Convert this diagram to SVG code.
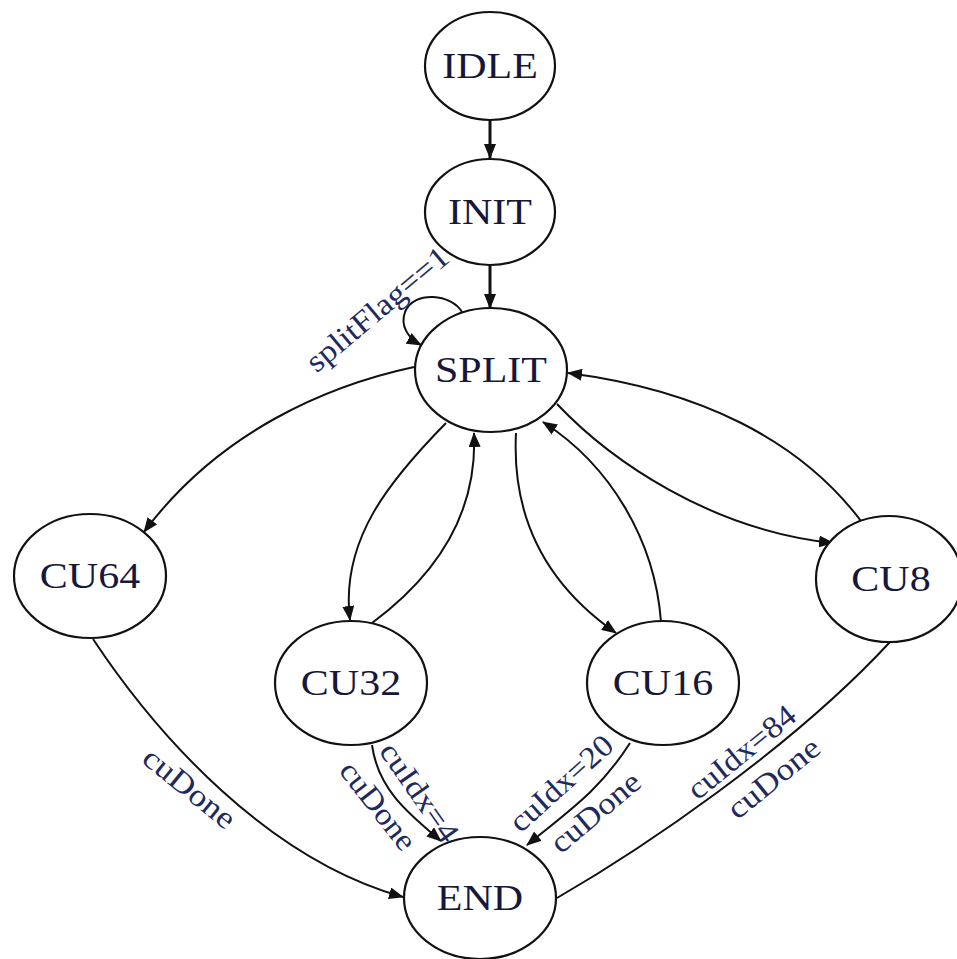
<svg xmlns="http://www.w3.org/2000/svg" width="957" height="959" viewBox="0 0 957 959">
<style>
.node ellipse{fill:#fff;stroke:#111;stroke-width:2.2}
.nl{font-family:"Liberation Serif","Times New Roman",serif;font-size:35px;fill:#17173a;text-anchor:middle}
.el{font-family:"Liberation Serif","Times New Roman",serif;font-size:31px;fill:#1e2a5e;text-anchor:middle}
.edges path{fill:none;stroke:#111;stroke-width:2}
.edges path.a{marker-end:url(#ah)}
.edges path.thick{stroke-width:3}
</style>
<defs>
<marker id="ah" markerWidth="15" markerHeight="12" refX="14" refY="6" orient="auto" markerUnits="userSpaceOnUse">
<path d="M0,0 L15,6 L0,12 z" fill="#111"/>
</marker>
</defs>
<rect width="957" height="959" fill="#fff"/>
<g id="connectors" class="edges">
<path class="a thick" d="M490,120 L490,158"/>
<path class="a thick" d="M490,265 L490,308"/>
<path class="a" d="M462,312 C452,294 414,290 405,312 C400,326 408,338 421,345"/>
<path class="a" d="M414,367 C330,385 220,430 144,532"/>
<path class="a" d="M446,423 C390,480 340,540 350,620"/>
<path class="a" d="M372,623 C430,580 478,520 474,433"/>
<path class="a" d="M516,433 C512,510 540,580 616,633"/>
<path class="a" d="M661,622 C655,540 610,465 543,422"/>
<path class="a" d="M557,404 C610,460 710,530 833,543"/>
<path class="a" d="M861,521 C800,440 700,390 568,373"/>
<path class="a" d="M93,639 C160,740 270,860 403,897"/>
<path class="a" d="M372,745 C378,790 410,815 441,841"/>
<path class="a" d="M630,743 C600,790 570,810 527,845"/>
<path d="M557,898 C640,850 790,750 890,642"/>
<text class="el" transform="translate(384,317) rotate(-40)" textLength="176" lengthAdjust="spacingAndGlyphs">splitFlag==1</text>
<text class="el" transform="translate(183,796) rotate(39)" textLength="110" lengthAdjust="spacingAndGlyphs">cuDone</text>
<text class="el" transform="translate(411,798) rotate(55)" textLength="114" lengthAdjust="spacingAndGlyphs">cuIdx=4</text>
<text class="el" transform="translate(370,812) rotate(52)" textLength="104" lengthAdjust="spacingAndGlyphs">cuDone</text>
<text class="el" transform="translate(568,791) rotate(-42)" textLength="128" lengthAdjust="spacingAndGlyphs">cuIdx=20</text>
<text class="el" transform="translate(602,820) rotate(-40)" textLength="108" lengthAdjust="spacingAndGlyphs">cuDone</text>
<text class="el" transform="translate(748,760) rotate(-39)" textLength="130" lengthAdjust="spacingAndGlyphs">cuIdx=84</text>
<text class="el" transform="translate(780,786) rotate(-39)" textLength="110" lengthAdjust="spacingAndGlyphs">cuDone</text>
</g>
<g id="IDLE" class="node"><ellipse cx="490" cy="66" rx="65" ry="54"/><text class="nl" transform="translate(490,78) scale(1.2,1)">IDLE</text></g>
<g id="INIT" class="node"><ellipse cx="490" cy="212" rx="65" ry="53"/><text class="nl" transform="translate(490,224) scale(1.2,1)">INIT</text></g>
<g id="SPLIT" class="node"><ellipse cx="491" cy="370" rx="76" ry="62"/><text class="nl" transform="translate(491,382) scale(1.2,1)">SPLIT</text></g>
<g id="CU64" class="node"><ellipse cx="90" cy="576" rx="76" ry="62"/><text class="nl" transform="translate(90,588) scale(1.2,1)">CU64</text></g>
<g id="CU32" class="node"><ellipse cx="351" cy="683" rx="76" ry="62"/><text class="nl" transform="translate(351,695) scale(1.2,1)">CU32</text></g>
<g id="CU16" class="node"><ellipse cx="663" cy="683" rx="76" ry="62"/><text class="nl" transform="translate(663,695) scale(1.2,1)">CU16</text></g>
<g id="CU8" class="node"><ellipse cx="889" cy="579" rx="73" ry="63"/><text class="nl" transform="translate(891,591) scale(1.2,1)">CU8</text></g>
<g id="END" class="node"><ellipse cx="480" cy="898" rx="76" ry="61"/><text class="nl" transform="translate(480,910) scale(1.2,1)">END</text></g>
</svg>
